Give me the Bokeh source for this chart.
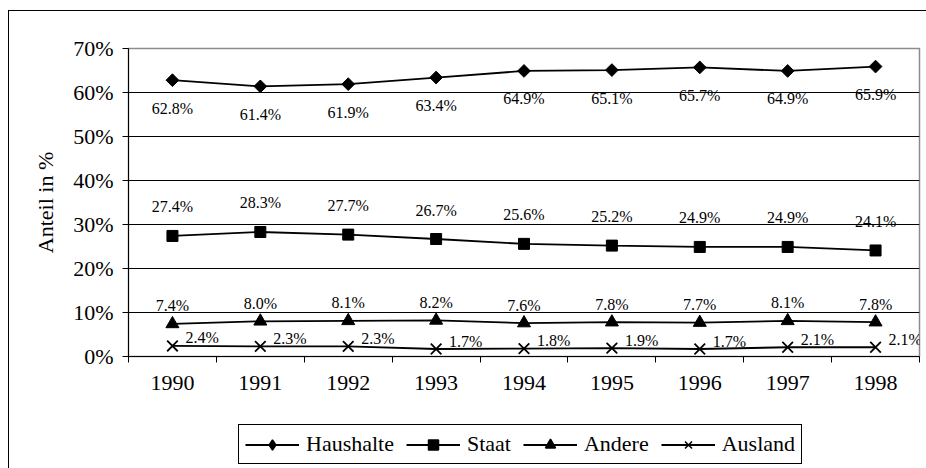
import numpy as np
from bokeh.plotting import figure
from bokeh.layouts import column
from bokeh.models import FixedTicker, PrintfTickFormatter, Legend, LegendItem, ColumnDataSource
from bokeh.core.properties import value
from bokeh.embed import file_html
from bokeh.resources import INLINE

years = ["1990", "1991", "1992", "1993", "1994", "1995", "1996", "1997", "1998"]
haushalte = [62.8, 61.4, 61.9, 63.4, 64.9, 65.1, 65.7, 64.9, 65.9]
staat = [27.4, 28.3, 27.7, 26.7, 25.6, 25.2, 24.9, 24.9, 24.1]
andere = [7.4, 8.0, 8.1, 8.2, 7.6, 7.8, 7.7, 8.1, 7.8]
ausland = [2.4, 2.3, 2.3, 1.7, 1.8, 1.9, 1.7, 2.1, 2.1]
y_ticks = [0, 10, 20, 30, 40, 50, 60, 70]
series_names = ["Haushalte", "Staat", "Andere", "Ausland"]

FONT = "Liberation Serif"
xs = [i + 0.5 for i in range(len(years))]

p = figure(width=917, height=391, x_range=(0, len(years)), y_range=(0, 70),
           output_backend="svg", toolbar_location=None,
           min_border_left=119, min_border_right=7, min_border_top=37, min_border_bottom=46)

p.outline_line_color = "#8c8c8c"
p.outline_line_width = 1.5
p.background_fill_color = "white"

# axes
p.xaxis.ticker = FixedTicker(ticks=xs, minor_ticks=list(range(len(years) + 1)))
p.xaxis.major_label_overrides = {x: y for x, y in zip(xs, years)}
p.xaxis.major_tick_line_color = None
p.xaxis.minor_tick_out = 6
p.xaxis.minor_tick_in = 0
p.xaxis.minor_tick_line_color = "black"
p.xaxis.axis_line_color = "black"
p.xaxis.major_label_standoff = 13
p.xaxis.major_label_text_font = FONT
p.xaxis.major_label_text_font_size = "22px"
p.xaxis.major_label_text_color = "black"

p.yaxis.ticker = FixedTicker(ticks=y_ticks)
p.yaxis.formatter = PrintfTickFormatter(format="%d%%")
p.yaxis.minor_tick_line_color = None
p.yaxis.major_tick_out = 6
p.yaxis.major_tick_in = 0
p.yaxis.major_label_standoff = 9
p.yaxis.major_label_text_font = FONT
p.yaxis.major_label_text_font_size = "22px"
p.yaxis.major_label_text_color = "black"
p.yaxis.axis_label = "Anteil in %"
p.yaxis.axis_label_text_font = FONT
p.yaxis.axis_label_text_font_size = "22px"
p.yaxis.axis_label_text_font_style = "normal"
p.yaxis.axis_label_text_color = "black"
p.yaxis.axis_label_standoff = 12

p.xgrid.visible = False
p.ygrid.ticker = FixedTicker(ticks=[10, 20, 30, 40, 50, 60])
p.ygrid.grid_line_color = "black"
p.ygrid.grid_line_width = 1

series = [haushalte, staat, andere, ausland]
markers = [("square", 9, np.pi / 4), ("square", 11, 0), ("triangle", 13, 0), ("x", 15, 0)]
legend_markers = ["diamond", "square", "triangle", "x"]
label_off = [(0, 28, "center"), (0, -29, "center"), (0, -18, "center"), (13, -8, "left")]

# legend row below the chart (its ranges keep the sample glyphs out of view)
lf = figure(width=917, height=66, x_range=(-10, -9), y_range=(-10, -9),
            output_backend="svg", toolbar_location=None,
            x_axis_type=None, y_axis_type=None,
            min_border_left=0, min_border_right=0, min_border_top=0, min_border_bottom=0)
lf.outline_line_color = None
lf.xgrid.visible = False
lf.ygrid.visible = False

items = []
for name, vals, (mk, sz, ang), lmk, (xo, yo, al) in zip(series_names, series, markers,
                                                         legend_markers, label_off):
    src = ColumnDataSource(dict(x=xs, y=vals, t=[f"{v:.1f}%" for v in vals]))
    p.line("x", "y", source=src, line_color="black", line_width=1.8)
    if mk == "x":
        p.scatter("x", "y", source=src, marker=mk, size=sz, line_color="black", line_width=1.8)
    else:
        p.scatter("x", "y", source=src, marker=mk, size=sz, angle=ang,
                  fill_color="black", line_color="black")
    p.text("x", "y", text="t", source=src, x_offset=xo, y_offset=yo, text_align=al,
           text_baseline="middle", text_font=value(FONT), text_font_size="16px",
           text_color="black")
    ln = lf.line("x", "y", source=src, line_color="black", line_width=1.8)
    sc = lf.scatter("x", "y", source=src, marker=lmk, size=12, fill_color="black",
                    line_color="black", line_width=1.5)
    items.append(LegendItem(label=name, renderers=[ln, sc]))

legend = Legend(items=items, orientation="horizontal", location=(110, 4),
                glyph_width=54, glyph_height=25, label_text_font=FONT,
                label_text_font_size="22px", label_text_color="black",
                label_standoff=7, spacing=12, padding=6,
                border_line_color="black", border_line_width=1, border_line_alpha=1,
                background_fill_alpha=1, margin=0)
lf.add_layout(legend, "center")

layout = column(p, lf, spacing=0)
layout.styles = {"margin-left": "8px", "margin-top": "10px",
                 "border-top": "1px solid black", "border-left": "1px solid black"}

open("out.html", "w").write(file_html(layout, INLINE))
